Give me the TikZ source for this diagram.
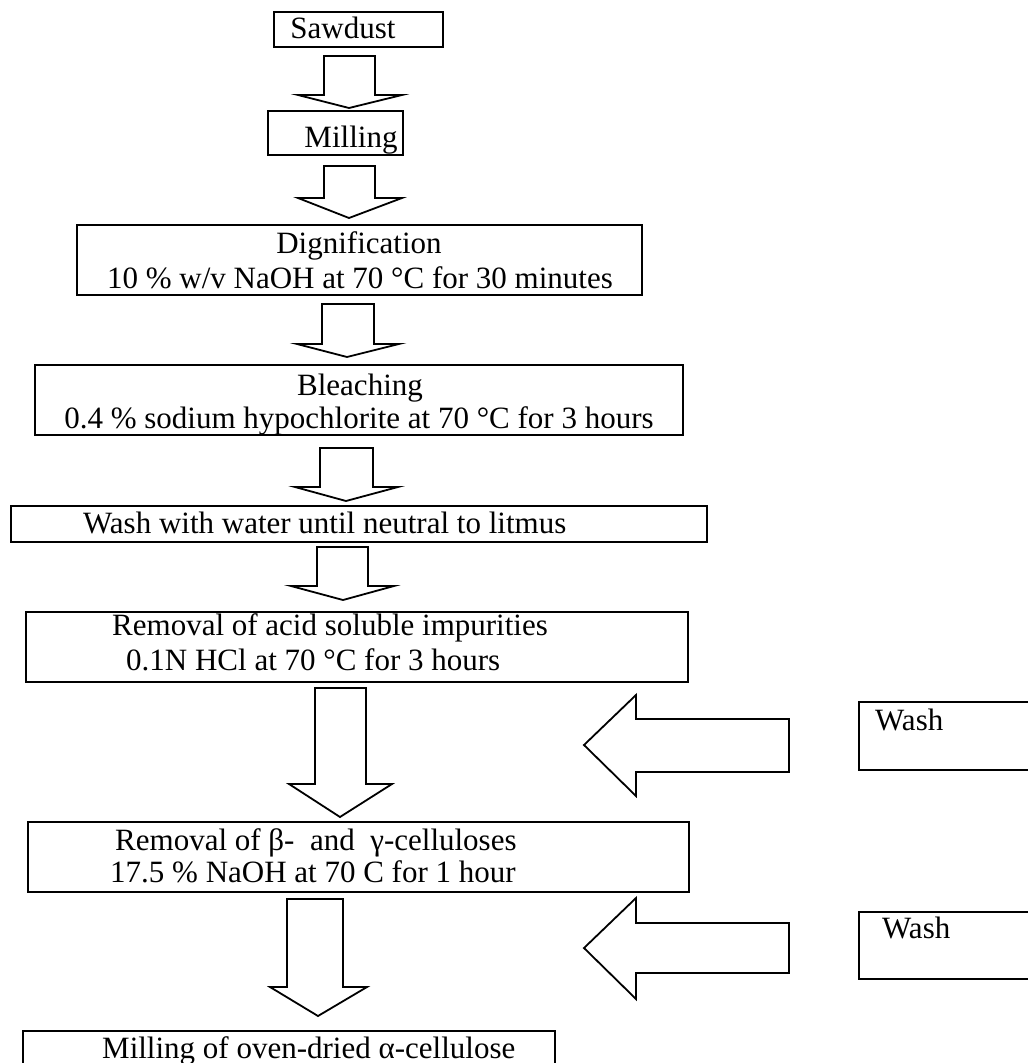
\documentclass[tikz,border=0pt]{standalone}
\usepackage{fontspec}
\setmainfont{Liberation Serif}
\begin{document}
\begin{tikzpicture}[x=1pt,y=-1pt,
  box/.style={draw=black, line width=2.4pt, inner sep=0pt, outer sep=0pt, anchor=north west},
  txt/.style={inner sep=0pt, font=\fontsize{31}{36}\selectfont, anchor=base},
  txtl/.style={txt, anchor=base west},
  barrow/.style={draw=black, line width=1.8pt, line join=miter, fill=white}]
\useasboundingbox (0,0) rectangle (1028,1063);
\clip (0,0) rectangle (1028,1063);
\fill[white] (0,0) rectangle (1028,1063);

% boxes
\node[box, minimum width=169pt, minimum height=35pt] (saw) at (274,12) {};
\node[box, minimum width=135pt, minimum height=44pt] (mill) at (268,111) {};
\node[box, minimum width=565pt, minimum height=70pt] (dig) at (77,225) {};
\node[box, minimum width=648pt, minimum height=70pt] (ble) at (35,365) {};
\node[box, minimum width=696pt, minimum height=36pt] (wat) at (11,506) {};
\node[box, minimum width=662pt, minimum height=70pt] (acid) at (26,612) {};
\node[box, minimum width=661pt, minimum height=70pt] (beta) at (28,822) {};
\node[box, minimum width=532pt, minimum height=60pt] (alpha) at (23,1031) {};
\node[box, minimum width=190pt, minimum height=68pt] (wash1) at (859,702) {};
\node[box, minimum width=190pt, minimum height=67pt] (wash2) at (859,912) {};

% texts
\node[txt] (t1) at (343,38) {Sawdust};
\node[txt] (t2) at (351,147) {Milling};
\node[txt] (t3a) at (359,253) {Dignification};
\node[txt] (t3b) at (360,288) {10 \% w/v NaOH at 70 °C for 30 minutes};
\node[txt] (t4a) at (360,395) {Bleaching};
\node[txt] (t4b) at (359,428) {0.4 \% sodium hypochlorite at 70 °C for 3 hours};
\node[txtl] (t5) at (83,533) {Wash with water until neutral to litmus};
\node[txtl] (t6a) at (112,635) {Removal of acid soluble impurities};
\node[txtl] (t6b) at (126,670) {0.1N HCl at 70 °C for 3 hours};
\node[txtl] (t7a) at (115,850) {Removal of β-\ \ and\ \ γ-celluloses};
\node[txtl] (t7b) at (110,882) {17.5 \% NaOH at 70 C for 1 hour};
\node[txtl] (t8) at (102,1058) {Milling of oven-dried α-cellulose};
\node[txtl] (t9) at (875,730) {Wash};
\node[txtl] (t10) at (882,938) {Wash};

% down block arrows
\draw[barrow] (324,56) -- (375,56) -- (375,95) -- (402,95) -- (349,108) -- (298,95) -- (324,95) -- cycle;
\draw[barrow] (324,166) -- (375,166) -- (375,198) -- (402,198) -- (349,218) -- (298,198) -- (324,198) -- cycle;
\draw[barrow] (322,304) -- (374,304) -- (374,344) -- (399,344) -- (347,357) -- (297,344) -- (322,344) -- cycle;
\draw[barrow] (320,448) -- (373,448) -- (373,487) -- (398,487) -- (346,501) -- (295,487) -- (320,487) -- cycle;
\draw[barrow] (317,547) -- (368,547) -- (368,586) -- (394,586) -- (343,600) -- (291,586) -- (317,586) -- cycle;
\draw[barrow] (315,688) -- (366,688) -- (366,784) -- (392,784) -- (340,817) -- (289,784) -- (315,784) -- cycle;
\draw[barrow] (287,899) -- (343,899) -- (343,987) -- (367,987) -- (318,1016) -- (270,987) -- (287,987) -- cycle;

% left block arrows
\draw[barrow] (789,719) -- (789,772) -- (636,772) -- (636,796) -- (584,745) -- (636,695) -- (636,719) -- cycle;
\draw[barrow] (789,923) -- (789,973) -- (636,973) -- (636,999) -- (584,948) -- (636,898) -- (636,923) -- cycle;
\end{tikzpicture}
\end{document}
